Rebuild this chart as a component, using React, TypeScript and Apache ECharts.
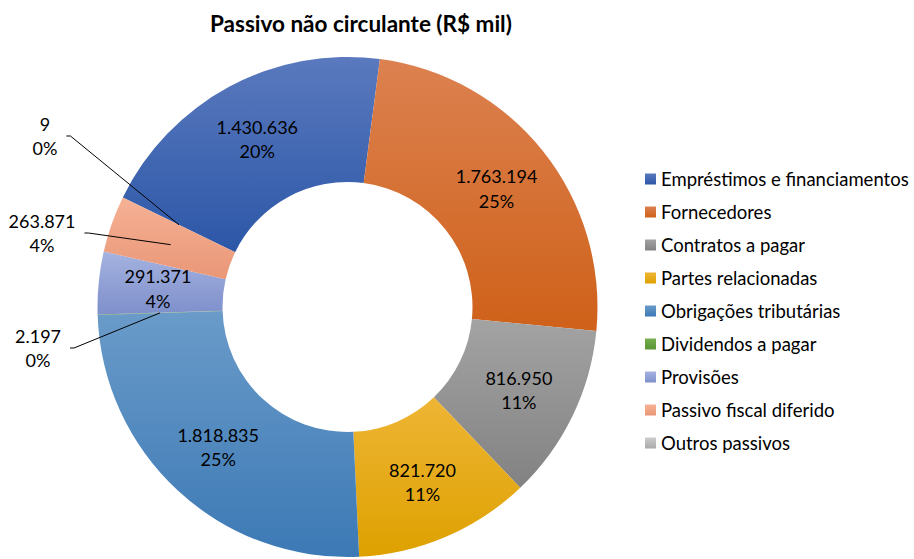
import React, { useEffect, useRef } from "react";
import * as echarts from "echarts";

const title = "Passivo não circulante (R$ mil)";
const categories = [
  "Empréstimos e financiamentos",
  "Fornecedores",
  "Contratos a pagar",
  "Partes relacionadas",
  "Obrigações tributárias",
  "Dividendos a pagar",
  "Provisões",
  "Passivo fiscal diferido",
  "Outros passivos",
];
const values = [1430636, 1763194, 816950, 821720, 1818835, 2197, 291371, 263871, 9];
const colorsTop = ["#5A79BE", "#DC8150", "#A3A3A3", "#EEB535", "#6A9BC9", "#74AE4D", "#A5B3E0", "#F6B195", "#CCCCCC"];
const colorsBottom = ["#2C57A7", "#CF6119", "#828282", "#DEA100", "#3C79B5", "#5A9436", "#7E8FCB", "#E99777", "#AAAAAA"];
const outsideLabels = ["Dividendos a pagar", "Passivo fiscal diferido", "Outros passivos"];

const FONT = 'Lato, "Open Sans", sans-serif';

const fmt = (v: number) => String(v).replace(/\B(?=(\d{3})+(?!\d))/g, ".");

export default function App() {
  const ref = useRef<HTMLDivElement>(null);
  useEffect(() => {
    document.body.style.margin = "0";
    if (!ref.current) return;
    const chart = echarts.init(ref.current, null, { renderer: "svg" });
    const center = [347.5, 307];
    const startAngle = 154;
    const outsidePos: Record<string, [number, number]> = {
      "Outros passivos": [45, 136],
      "Passivo fiscal diferido": [42, 233],
      "Dividendos a pagar": [38, 348],
    };
    const labelFormatter = (p: any) => `${fmt(p.value)}\n${p.percent}%`;
    chart.setOption({
      animation: false,
      title: {
        text: title,
        left: 205,
        top: 7,
        textStyle: { fontFamily: FONT, fontSize: 22.5, fontWeight: "bold", color: "#000" },
      },
      legend: {
        orient: "vertical",
        left: 640,
        top: 163,
        icon: "rect",
        itemWidth: 11,
        itemHeight: 11,
        itemGap: 11,
        data: categories,
        textStyle: { fontFamily: FONT, fontSize: 18.5, color: "#000", lineHeight: 22 },
      },
      series: [
        {
          type: "pie",
          z: 2,
          center,
          radius: [125, 250],
          startAngle,
          clockwise: true,
          avoidLabelOverlap: false,
          percentPrecision: 0,
          emphasis: { disabled: true },
          label: {
            show: true,
            position: "inside",
            formatter: labelFormatter,
            fontFamily: FONT,
            fontSize: 18,
            lineHeight: 24.5,
            color: "#000",
            align: "center",
          },
          labelLine: { show: false },
          data: categories.map((n, i) => ({
            name: n,
            value: values[i],
            itemStyle: {
              color: new echarts.graphic.LinearGradient(0, 0, 0, 1, [
                { offset: 0, color: colorsTop[i] },
                { offset: 1, color: colorsBottom[i] },
              ]),
            },
            label: { show: !outsideLabels.includes(n) },
          })),
        },
        {
          type: "pie",
          z: 5,
          center,
          radius: [0, 187.5],
          startAngle,
          clockwise: true,
          avoidLabelOverlap: false,
          percentPrecision: 0,
          silent: true,
          emphasis: { disabled: true },
          itemStyle: { color: "transparent" },
          label: {
            show: true,
            position: "outside",
            formatter: labelFormatter,
            fontFamily: FONT,
            fontSize: 18,
            lineHeight: 24.5,
            color: "#000",
            align: "center",
            padding: [0, 9],
          },
          labelLine: { show: true, length: 10, length2: 4, lineStyle: { color: "#000", width: 1 } },
          labelLayout: (params: any) => {
            const name = categories[params.dataIndex];
            const p = outsidePos[name];
            if (!p) return {};
            return { x: p[0], y: p[1], align: "center", verticalAlign: "middle" };
          },
          data: categories.map((n, i) => ({
            name: n,
            value: values[i],
            label: { show: outsideLabels.includes(n) },
            labelLine: { show: outsideLabels.includes(n) },
          })),
        },
      ],
    });
    return () => chart.dispose();
  }, []);
  return <div ref={ref} style={{ width: 914, height: 559 }} />;
}
